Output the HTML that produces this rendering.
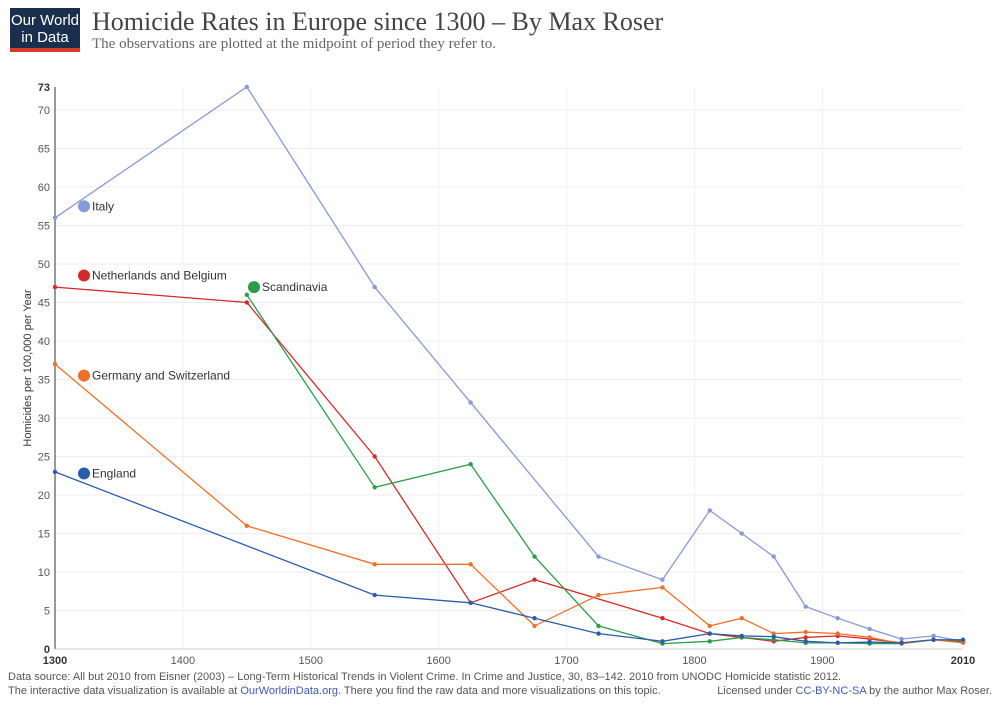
<!DOCTYPE html>
<html><head><meta charset="utf-8"><style>
body{margin:0;background:#fff;width:1000px;height:700px;overflow:hidden;font-family:"Liberation Sans",sans-serif}
</style></head><body>
<svg id="c" width="1000" height="700" xmlns="http://www.w3.org/2000/svg" font-family="Liberation Sans, sans-serif">
<rect x="10" y="8" width="70" height="44" fill="#1a2f4e"/>
<rect x="10" y="48" width="70" height="4" fill="#d73a2a"/>
<text x="45" y="25" fill="#fff" font-size="15" text-anchor="middle">Our World</text>
<text x="45" y="42" fill="#fff" font-size="15" text-anchor="middle">in Data</text>
<text x="92" y="30" font-family="Liberation Serif, serif" font-size="26" fill="#444">Homicide Rates in Europe since 1300 – By Max Roser</text>
<text x="92" y="48" font-family="Liberation Serif, serif" font-size="15" fill="#666">The observations are plotted at the midpoint of period they refer to.</text>
<text transform="translate(31,368) rotate(-90)" font-size="11" fill="#333" text-anchor="middle">Homicides per 100,000 per Year</text>
<text x="8" y="680" font-size="11" fill="#555">Data source: All but 2010 from Eisner (2003) – Long-Term Historical Trends in Violent Crime. In Crime and Justice, 30, 83–142. 2010 from UNODC Homicide statistic 2012.</text>
<text x="8" y="694" font-size="11" fill="#555">The interactive data visualization is available at <tspan fill="#3b5bad">OurWorldinData.org</tspan>. There you find the raw data and more visualizations on this topic.</text>
<text x="992" y="694" font-size="11" fill="#555" text-anchor="end">Licensed under <tspan fill="#3b5bad">CC-BY-NC-SA</tspan> by the author Max Roser.</text>
<g id="g"></g>
</svg>
<script>
var X=function(y){return 55+(y-1300)*908/710},Y=function(v){return 649-v*7.7};
var s='';
for(var v=5;v<=70;v+=5){s+='<line x1="55" x2="963" y1="'+Y(v)+'" y2="'+Y(v)+'" stroke="#eee"/>';s+='<text x="50" y="'+(Y(v)+4)+'" font-size="11" fill="#555" text-anchor="end">'+v+'</text>';}
s+='<text x="50" y="'+(Y(73)+4)+'" font-size="11" font-weight="bold" fill="#333" text-anchor="end">73</text>';
s+='<text x="50" y="'+(Y(0)+4)+'" font-size="11" font-weight="bold" fill="#333" text-anchor="end">0</text>';
[1400,1500,1600,1700,1800,1900].forEach(function(y){s+='<line x1="'+X(y)+'" x2="'+X(y)+'" y1="87" y2="649" stroke="#f0f0f0"/><text x="'+X(y)+'" y="664" font-size="11" fill="#555" text-anchor="middle">'+y+'</text>';});
s+='<text x="55" y="664" font-size="11" font-weight="bold" fill="#333" text-anchor="middle">1300</text><text x="963" y="664" font-size="11" font-weight="bold" fill="#333" text-anchor="middle">2010</text>';
s+='<line x1="55" x2="55" y1="87" y2="649" stroke="#333"/><line x1="55" x2="963" y1="649" y2="649" stroke="#ccc"/>';
var T=[1812,1837,1862,1887,1912,1937,1962,1987,2010];
var D=[
['#8799d6',[[1300,56],[1450,73],[1550,47],[1625,32],[1725,12],[1775,9]],[18,15,12,5.5,4,2.6,1.3,1.7,1],'Italy',57.5],
['#d32b2b',[[1300,47],[1450,45],[1550,25],[1625,6],[1675,9],[1775,4]],[2,1.5,1,1.5,1.7,1.3,0.8,1.2,1],'Netherlands and Belgium',48.5],
['#2a9d49',[[1450,46],[1550,21],[1625,24],[1675,12],[1725,3],[1775,0.7]],[1,1.5,1.2,0.8,0.8,0.7,0.7,1.2,0.9],'Scandinavia',47],
['#f0702a',[[1300,37],[1450,16],[1550,11],[1625,11],[1675,3],[1725,7],[1775,8]],[3,4,2,2.2,2,1.5,0.7,1.2,0.8],'Germany and Switzerland',35.5],
['#2b5cab',[[1300,23],[1550,7],[1625,6],[1675,4],[1725,2],[1775,1]],[2,1.7,1.6,1,0.8,0.9,0.8,1.2,1.2],'England',22.8]];
D.forEach(function(d){var p=d[1].slice();T.forEach(function(t,i){p.push([t,d[2][i]]);});
s+='<polyline fill="none" stroke="'+d[0]+'" stroke-width="1.3" points="'+p.map(function(q){return X(q[0])+','+Y(q[1]);}).join(' ')+'"/>';
p.forEach(function(q){s+='<circle cx="'+X(q[0])+'" cy="'+Y(q[1])+'" r="2.2" fill="'+d[0]+'"/>';});
var lx=d[3]=='Scandinavia'?254:84;
s+='<circle cx="'+lx+'" cy="'+Y(d[4])+'" r="6" fill="'+d[0]+'"/><text x="'+(lx+8)+'" y="'+(Y(d[4])+4)+'" font-size="12" fill="#333">'+d[3]+'</text>';});
document.getElementById('g').innerHTML=s;
</script>
</body></html>
